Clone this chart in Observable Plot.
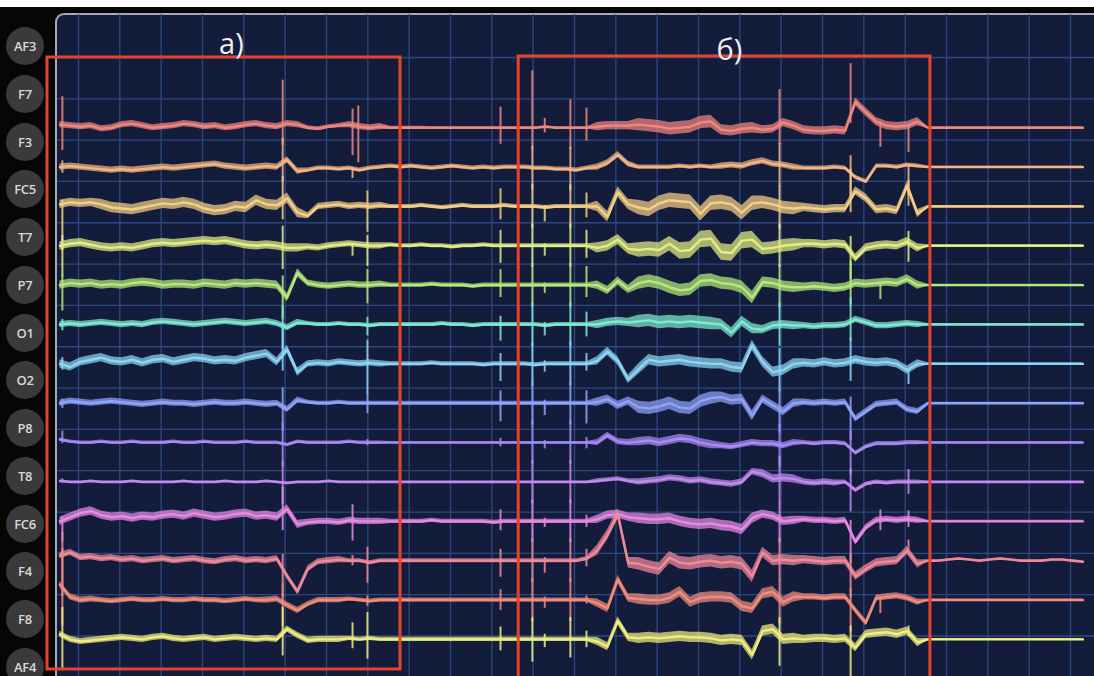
<!DOCTYPE html>
<html><head><meta charset="utf-8">
<script src="https://cdn.jsdelivr.net/npm/d3@7"></script>
<script src="https://cdn.jsdelivr.net/npm/@observablehq/plot@0.6"></script>
<style>
html,body{margin:0;padding:0;background:#060606;width:1094px;height:676px;overflow:hidden;position:relative;font-family:"Open Sans",sans-serif}
#topstrip{position:absolute;left:0;top:0;width:1094px;height:7px;background:#ffffff}
#panel{position:absolute;left:55px;top:13px;width:1080px;height:700px;background:#141c3b;border-top:2px solid #a4aab3;border-left:2px solid #a4aab3;border-top-left-radius:9px;box-sizing:border-box}
#labels{position:absolute;left:0;top:0;width:50px;height:676px}
.lab{position:absolute;left:6px;width:38px;height:38px;border-radius:50%;background:#3a3a3a;color:#d8d8d8;font-weight:600;font-size:13px;display:flex;align-items:center;justify-content:center;letter-spacing:-0.3px}
#chart{position:absolute;left:0;top:0}
</style></head><body>
<div id="topstrip"></div><div id="panel"></div><div id="labels"></div><div id="chart"></div>
<script>
// ---- channels ----
const channels = ["AF3","F7","F3","FC5","T7","P7","O1","O2","P8","T8","FC6","F4","F8","AF4"];
const channelColors = ["#f0867f","#f3b584","#f5cf86","#e2ee84","#b4ea7c","#80ead0","#8ed5f4","#8fa3fb","#a88bf5","#c28af0","#e68ae4","#f08a9a","#f08c7c","#f1ee7e"];

// sampling: first sample time and interval (s)
const t0 = -0.45, dt = 0.25;

// deflections (µV, positive = up), one value per sample
const AF3 = [3,2,1,2,-1,0,3,4,2,0, 1,2,4,3,1,2,0,1,3,4, 2,1,4,3,0,-1,1,2,3,1, 0,1,0,0, 0,0,0,0,0,0,0,0,0,0,0, 0,0,1,0,0,0,0,1,2,2,2,3,2,1, -1,0,1,5,6,-2,-3,-1,0,-2,-1,5,2,-2,-3,-3,-2,-3,25,15,6,2,1,2,6, 0,0,0,0,0,0,0,0,0,0,0,0,0,0,0,0];
const F7 = [0,1,0,-1,-2,-3,-2,-3,-2,-1, 0,-1,0,1,2,3,1,0,-1,0, 1,0,7,-4,-3,-1,-1,-2,-1,-3, -1,0,1,0, 1,0,-1,0,1,0,-1,0,-1,0,0, 0,-1,-1,-2,-2,-3,-1,0,4,12,3,0,0,0, 0,1,0,1,0,1,2,1,4,6,3,2,0,-1,-1,-1,0,-1,-10,-14,1,1,0,2,1, 0,0,0,0,0,0,0,0,0,0,0,0,0,0,0,0];
const F3 = [2,4,3,4,2,-1,-2,-3,-1,1, 3,2,4,2,-2,-4,-3,0,-1,6, 2,1,8,-6,-9,0,1,2,0,1, 0,1,0,0, 0,1,0,-1,0,1,0,0,0,1,0, 0,0,-1,0,0,0,0,0,-10,14,2,-1,-3,3, 6,5,4,-7,3,4,2,-6,3,4,2,-1,-2,-1,-2,-3,-2,-2,15,8,-3,-2,-4,20,-7, 0,0,0,0,0,0,0,0,0,0,0,0,0,0,0,0];
const FC5 = [0,2,3,1,-1,-2,-1,-2,0,2, 3,2,3,4,5,4,5,3,1,0, 1,0,-2,-2,-1,-2,0,1,2,1, 0,0,1,0, 0,1,0,0,-1,0,0,1,0,0,0, 0,0,0,0,0,0,0,-2,0,6,-3,-4,-3,-4, 2,-5,-4,6,7,-6,-7,5,6,-3,-2,0,1,2,2,1,2,1,-12,-2,0,1,0,4,-2, 0,0,0,0,0,0,0,0,0,0,0,0,0,0,0,0];
const T7 = [0,2,1,2,0,1,0,2,3,2, 0,1,1,0,2,1,0,2,1,2, 1,0,-12,12,2,0,-1,0,1,0, 0,1,0,0, 0,0,1,0,0,0,-1,0,0,0,0, 0,0,0,0,0,0,0,0,-5,4,-4,2,4,2, -2,-5,-4,4,5,2,1,-2,-12,3,2,-1,-2,-2,-1,-2,-3,-2,2,1,2,3,2,6,0, 0,0,0,0,0,0,0,0,0,0,0,0,0,0,0,0];
const P7 = [0,1,0,1,2,1,0,1,0,2, 3,2,1,0,1,2,3,2,1,2, 3,1,-3,2,1,0,0,1,0,0, -1,0,0,0, 0,0,0,1,0,0,-1,0,0,0,0, 0,0,-1,0,0,0,0,0,2,3,2,3,4,2, 3,2,3,2,1,0,-8,3,-4,-5,-1,0,-1,-1,-2,-1,-1,0,5,2,-1,-1,0,1,0, 0,0,0,0,0,0,0,0,0,0,0,0,0,0,0,0];
const O1 = [0,-3,2,4,6,3,2,4,1,4, 5,2,4,6,5,3,4,3,6,8, 10,2,14,-8,0,1,0,2,1,0, 1,0,0,0, 0,0,1,0,0,0,0,-1,0,0,0, 0,-1,0,0,0,0,0,3,12,3,-15,-5,4,2, 3,4,2,1,0,0,-3,-4,18,2,-8,-6,0,1,0,2,0,1,4,2,1,2,0,-6,0, 0,0,0,0,0,0,0,0,0,0,0,0,0,0,0,0];
const O2 = [0,2,1,0,1,2,1,0,-1,0, 1,0,0,-1,0,1,0,0,1,0, -1,0,-6,3,1,0,0,1,0,0, 0,0,0,0, 0,0,0,0,0,0,0,0,0,0,0, 0,0,0,0,0,0,0,1,4,-2,2,-4,-5,-3, 0,-4,-5,2,5,6,3,4,-12,4,-2,-8,0,1,0,1,0,1,-15,-8,-1,0,1,-6,-8, 0,0,0,0,0,0,0,0,0,0,0,0,0,0,0,0];
const P8 = [3,1,0,0,1,0,0,1,0,0, 0,1,0,0,1,0,0,0,1,0, 0,0,-2,1,0,0,0,0,1,0, 0,0,0,0, 0,0,0,0,0,0,0,0,0,0,0, 0,0,0,0,0,0,0,0,7,1,0,1,2,0, 2,4,3,0,-2,-3,-4,-2,0,-1,-1,-3,0,0,-1,0,0,-1,-10,-4,-1,-1,-1,0,0, 0,0,0,0,0,0,0,0,0,0,0,0,0,0,0,0];
const T8 = [1,0,0,1,0,0,0,1,0,0, 0,0,1,0,0,0,1,0,0,0, 1,0,-1,0,0,0,1,0,0,0, 0,0,0,0, 0,0,0,0,0,0,0,0,0,0,0, 0,0,0,0,0,0,0,1,2,3,1,0,1,2, 4,3,1,2,0,-1,-2,0,10,8,3,4,3,0,-1,0,-1,0,-8,-2,0,-1,0,0,0, 0,0,0,0,0,0,0,0,0,0,0,0,0,0,0,0];
const FC6 = [0,4,8,10,6,4,5,3,5,4, 6,7,5,8,6,4,5,7,8,5, 6,4,12,-3,-1,0,0,-1,1,0, 0,0,0,0, 0,0,1,0,0,0,0,0,-1,0,0, 0,0,0,0,0,0,0,2,6,7,4,3,2,2, 3,0,-2,-3,-2,-4,-5,-8,3,7,5,0,1,2,1,1,0,1,-20,-6,1,2,1,2,1, 0,0,0,0,0,0,0,0,0,0,0,0,0,0,0,0];
const F4 = [5,8,3,4,2,3,1,2,0,1, 2,0,1,2,0,-1,1,2,0,1, 0,2,-15,-30,-8,-1,0,1,0,0, -2,0,0,0, 0,0,0,0,0,0,0,0,0,0,0, 0,0,0,0,0,0,2,10,25,45,-2,-3,-6,-8, 3,-2,-3,-1,0,-2,-1,-3,-15,8,0,1,0,1,0,-1,0,0,-15,-8,-2,-1,0,10,-3, 0,0,1,2,1,0,1,2,1,0,0,0,1,1,0,-1];
const F8 = [15,3,0,1,0,-1,0,1,0,0, 1,0,0,1,0,0,-1,0,1,0, 0,1,-5,-10,-4,0,0,0,1,0, -1,0,0,0, 0,0,0,0,0,0,0,0,0,0,0, 0,0,0,0,0,0,0,-3,-8,20,2,1,0,0, 2,8,-2,2,3,3,2,-6,-8,6,8,-2,3,3,3,2,3,3,-10,-22,2,3,4,2,-2, 0,0,0,0,0,0,0,0,0,0,0,0,0,0,0,0];
const AF4 = [5,0,-2,-1,0,1,2,1,0,2, 3,1,0,1,2,0,1,2,1,0, 1,0,10,4,-1,0,0,0,1,0, 1,0,0,0, 0,0,0,0,0,0,0,0,0,0,0, 0,0,0,0,0,0,0,-2,-7,18,2,1,2,1, 2,3,2,2,1,-1,0,-1,-15,8,10,0,1,0,1,1,0,1,-8,5,6,7,5,8,-3, 0,0,0,0,0,0,0,0,0,0,0,0,0,0,0,0];
const traces = [AF3,F7,F3,FC5,T7,P7,O1,O2,P8,T8,FC6,F4,F8,AF4];

// noise half-amplitude (µV) per 1-second block
const nAF3 = [3,3,3,3,3,3,2,3,1.5,1,1,1,1,4,6,6,5,4,4,4,4,1,1,1,1];
const nF7  = [3,3,3,3,3,3,2,2,2,2,2,2,2,3,2,2,3,3,2,2,2,1,1,1,1];
const nF3  = [4,5,5,5,5,5,3,3,2,2,2,2,2,5,7,7,7,6,4,4,4,1,1,1,1];
const nFC5 = [4,4,4,4,4,4,3,3,2,2,2,2,2,5,7,8,8,6,4,4,4,1,1,1,1];
const nT7  = [4,4,4,4,4,4,3,3,2,2,2,2,2,4,6,6,6,5,4,4,4,1,1,1,1];
const nP7  = [3,3,3,3,3,3,2,2,2,2,2,2,2,4,6,6,5,4,3,3,3,1,1,1,1];
const nO1  = [4,4,4,4,4,4,3,3,2,2,2,2,2,4,5,5,5,5,4,4,4,1,1,1,1];
const nO2  = [3,3,3,3,3,3,2,2,2,2,2,2,2,4,6,6,5,4,3,3,3,1,1,1,1];
const nP8  = [1.5,1.5,1.5,1.5,1.5,1.5,1.5,1.5,1,1,1,1,1,3,4,4,3,3,2,2,2,1,1,1,1];
const nT8  = [1,1,1,1,1,1,1,1,1,1,1,1,1,2,3,3,3,4,3,2,2,1,1,1,1];
const nFC6 = [4,4,4,4,4,4,3,3,2,2,2,2,2,4,5,5,5,4,3,3,3,1,1,1,1];
const nF4  = [3,3,3,3,3,3,3,2,2,2,2,2,2,5,6,6,6,5,4,4,4,1,1,1,1];
const nF8  = [3,2.5,2.5,2.5,2.5,3,2.5,2,2,2,2,2,2,4,5,5,5,5,3,3,3,1,1,1,1];
const nAF4 = [3,3,3,3,3,3,3,2,2,2,2,2,2,4,5,5,5,5,4,4,4,1,1,1,1];
const noise = [nAF3,nF7,nF3,nFC5,nT7,nP7,nO1,nO2,nP8,nT8,nFC6,nF4,nF8,nAF4];

// artifact spikes: time (s) and per-channel extent up / down (µV)
const spikeTimes = [-0.39, 4.94, 6.63, 6.77, 6.99, 10.21, 10.98, 11.28, 11.9, 12.29, 16.96, 18.68, 19.4, 20.08];
const spikeUp = [
  [27,6,4,10,10,5,6,4,8,2,4,22,35,26],
  [42,21,21,21,21,21,21,21,21,21,21,21,21,21],
  [15,0,0,0,0,0,0,0,0,0,15,5,0,15],
  [20,0,0,0,0,0,0,0,0,0,0,0,0,0],
  [0,0,15,10,15,8,22,10,3,0,0,15,5,25],
  [20,0,16,15,15,8,10,12,4,0,11,11,10,12],
  [55,21,21,21,21,21,21,21,21,21,21,21,21,21],
  [8,0,2,2,2,3,3,3,2,0,3,3,3,5],
  [27,21,21,21,21,21,21,21,21,21,21,21,21,21],
  [19,0,13,15,18,12,10,12,5,0,6,9,4,8],
  [32,21,21,21,21,21,21,21,21,21,21,21,21,21],
  [37,21,21,21,21,21,21,21,21,21,21,21,21,21],
  [0,0,0,0,0,0,0,0,0,0,10,0,0,0],
  [0,0,5,10,0,0,0,0,0,12,8,10,0,5]
];
const spikeDown = [
  [25,6,45,30,25,6,6,5,4,2,20,40,40,34],
  [21,21,21,21,21,21,21,21,21,21,21,21,21,26],
  [30,10,0,12,0,0,0,0,0,0,20,5,0,10],
  [35,0,0,0,0,0,0,0,0,0,0,0,0,0],
  [0,0,25,20,18,10,30,10,3,0,0,20,5,20],
  [16,0,14,17,12,16,17,18,4,0,9,16,10,11],
  [21,21,21,21,21,21,21,21,21,21,21,21,21,22],
  [6,0,14,10,8,10,8,12,6,0,6,12,8,8],
  [21,21,21,21,21,21,21,21,21,21,21,21,21,18],
  [13,0,11,12,12,12,7,20,6,0,6,8,4,8],
  [21,21,21,21,21,21,21,21,21,21,21,21,21,26],
  [21,21,21,21,21,21,21,21,21,21,21,21,21,33],
  [25,0,0,0,16,0,0,0,0,0,10,0,15,0],
  [26,40,10,20,0,0,14,0,0,12,8,0,0,5]
];

// marked episodes (annotations)
const episodes = [
  {label: "а)", t1: -0.75, t2: 7.79, v1: 0, v2: 592.4, lt: 3.7, lv: -12},
  {label: "б)", t1: 10.65, t2: 20.61, v1: -1, v2: 640, lt: 15.75, lv: -6.5}
];

// ---- layout constants ----
const BASE0 = 68, GAP = 38.1;
const base = c => BASE0 + GAP * c;

// labels column
const labBox = document.getElementById("labels");
channels.forEach((name, k) => {
  const d = document.createElement("div");
  d.className = "lab";
  d.textContent = name;
  d.style.top = (27 + k * 47.77) + "px";
  labBox.appendChild(d);
});

// rows
const rows = [];
traces.forEach((vals, c) => vals.forEach((v, i) => {
  const b = base(c), n = noise[c][Math.floor(i / 4)];
  rows.push({c, t: t0 + i * dt, y: b - v, lo: b - v - n, hi: b - v + n});
}));
const spikes = [];
spikeTimes.forEach((t, e) => channels.forEach((_, c) => {
  const up = spikeUp[e][c], dn = spikeDown[e][c];
  if (up || dn) {
    const i = Math.max(0, Math.round((t - t0) / dt));
    const y0 = base(c) - traces[c][i];
    spikes.push({t, y1: y0 - up, y2: y0 + dn, color: channelColors[c]});
  }
}));

const gridColor = "#2b4883";
const marks = [
  Plot.ruleX(d3.range(0, 25), {stroke: gridColor, strokeWidth: 1.3}),
  Plot.ruleY(d3.range(0, 600, 40), {stroke: gridColor, strokeWidth: 1.3})
];
channels.forEach((name, c) => {
  const d = rows.filter(r => r.c === c);
  marks.push(Plot.areaY(d, {x: "t", y1: "lo", y2: "hi", fill: channelColors[c], fillOpacity: 0.72}));
  marks.push(Plot.line(d, {x: "t", y: "y", stroke: channelColors[c], strokeWidth: 2.4}));
});
marks.push(Plot.ruleX(spikes, {x: "t", y1: "y1", y2: "y2", stroke: "color", strokeWidth: 2, strokeOpacity: 0.85}));
marks.push(Plot.rect(episodes, {x1: "t1", x2: "t2", y1: "v1", y2: "v2", stroke: "#e6432c", strokeWidth: 3, fill: "none"}));
marks.push(Plot.text(episodes, {x: "lt", y: "lv", text: "label", fill: "#eeeef4", fontSize: 29, fontFamily: "Open Sans", textAnchor: "middle"}));

const chart = Plot.plot({
  width: 1094, height: 676,
  marginLeft: 57, marginTop: 14, marginRight: 0, marginBottom: 0,
  x: {domain: [-0.508, 24.58], axis: null},
  y: {domain: [599.2, -41.6], axis: null},
  color: {type: "identity"},
  style: {background: "transparent", overflow: "visible"},
  marks
});
document.getElementById("chart").appendChild(chart);
</script></body></html>
